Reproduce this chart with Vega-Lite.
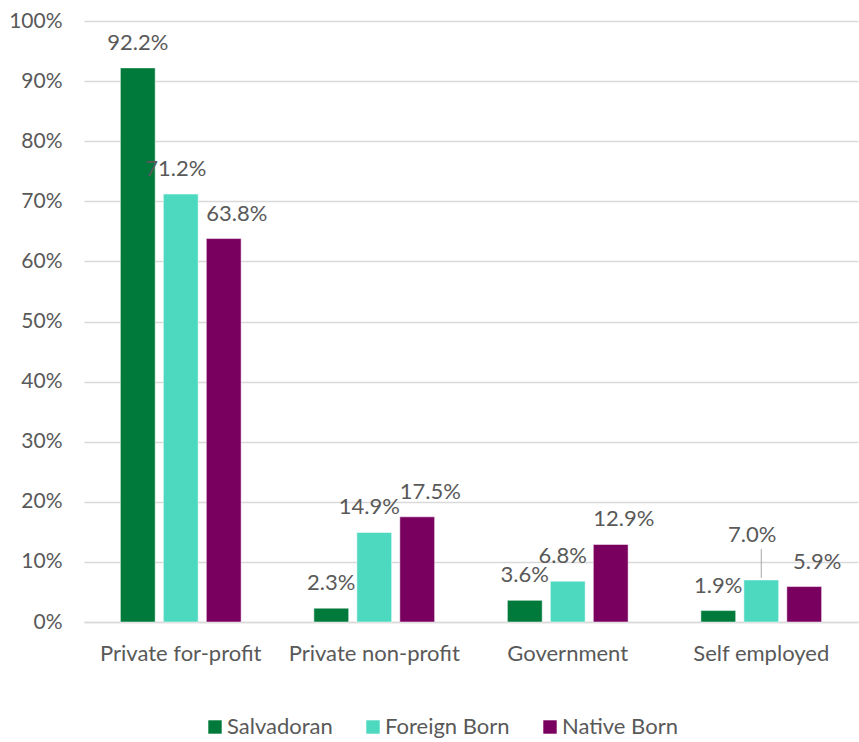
{
  "$schema": "https://vega.github.io/schema/vega-lite/v6.json",
  "width": 774,
  "height": 601,
  "autosize": "none",
  "padding": {"left": 84, "top": 21, "right": 1, "bottom": 120},
  "background": "white",
  "data": {
    "values": [
      {"sector": "Private for-profit", "group": "Salvadoran", "share": 0.922},
      {"sector": "Private for-profit", "group": "Foreign Born", "share": 0.712},
      {"sector": "Private for-profit", "group": "Native Born", "share": 0.638},
      {"sector": "Private non-profit", "group": "Salvadoran", "share": 0.023},
      {"sector": "Private non-profit", "group": "Foreign Born", "share": 0.149},
      {"sector": "Private non-profit", "group": "Native Born", "share": 0.175},
      {"sector": "Government", "group": "Salvadoran", "share": 0.036},
      {"sector": "Government", "group": "Foreign Born", "share": 0.068},
      {"sector": "Government", "group": "Native Born", "share": 0.129},
      {"sector": "Self employed", "group": "Salvadoran", "share": 0.019},
      {"sector": "Self employed", "group": "Foreign Born", "share": 0.070},
      {"sector": "Self employed", "group": "Native Born", "share": 0.059}
    ]
  },
  "encoding": {
    "x": {
      "field": "sector",
      "type": "nominal",
      "sort": ["Private for-profit", "Private non-profit", "Government", "Self employed"],
      "scale": {"paddingInner": 0.376, "paddingOuter": 0.188},
      "axis": {
        "title": null,
        "labelAngle": 0,
        "labelFont": "Lato",
        "labelFontSize": 22,
        "labelColor": "#595959",
        "labelPadding": 21,
        "ticks": false,
        "domain": true,
        "domainColor": "#D9D9D9",
        "domainWidth": 1.5,
        "grid": false
      }
    },
    "xOffset": {
      "field": "group",
      "type": "nominal",
      "sort": ["Salvadoran", "Foreign Born", "Native Born"],
      "scale": {"paddingInner": 0.19, "paddingOuter": 0}
    },
    "y": {
      "field": "share",
      "type": "quantitative",
      "scale": {"domain": [0, 1], "nice": false},
      "axis": {
        "title": null,
        "values": [0, 0.1, 0.2, 0.3, 0.4, 0.5, 0.6, 0.7, 0.8, 0.9, 1.0],
        "format": ".0%",
        "labelFont": "Lato",
        "labelFontSize": 21,
        "labelColor": "#595959",
        "labelPadding": 22,
        "ticks": false,
        "domain": false,
        "gridColor": "#D9D9D9",
        "gridWidth": 1.5
      }
    }
  },
  "layer": [
    {
      "mark": {"type": "bar", "stroke": "white", "strokeWidth": 0.5},
      "encoding": {
        "color": {
          "field": "group",
          "type": "nominal",
          "sort": ["Salvadoran", "Foreign Born", "Native Born"],
          "scale": {
            "domain": ["Salvadoran", "Foreign Born", "Native Born"],
            "range": ["#007A3B", "#4DD9C0", "#7A0060"]
          },
          "legend": {
            "title": null,
            "orient": "none",
            "direction": "horizontal",
            "legendX": 120,
            "legendY": 695,
            "symbolType": "square",
            "symbolSize": 180,
            "symbolStrokeWidth": 0,
            "labelFont": "Lato",
            "labelFontSize": 22,
            "labelColor": "#595959",
            "labelOffset": 1,
            "columnPadding": 29
          }
        }
      }
    },
    {
      "transform": [{"filter": "datum.group === 'Salvadoran'"}],
      "mark": {"type": "text", "baseline": "middle", "dy": -25, "font": "Lato", "fontSize": 22, "color": "#595959"},
      "encoding": {"text": {"field": "share", "type": "quantitative", "format": ".1%"}}
    },
    {
      "transform": [{"filter": "datum.group === 'Foreign Born' && datum.sector !== 'Self employed'"}],
      "mark": {"type": "text", "baseline": "middle", "dy": -25, "dx": -5, "font": "Lato", "fontSize": 22, "color": "#595959"},
      "encoding": {"text": {"field": "share", "type": "quantitative", "format": ".1%"}}
    },
    {
      "transform": [{"filter": "datum.group === 'Foreign Born' && datum.sector === 'Self employed'"}],
      "mark": {"type": "text", "baseline": "middle", "dy": -45, "dx": -9, "font": "Lato", "fontSize": 22, "color": "#595959"},
      "encoding": {"text": {"field": "share", "type": "quantitative", "format": ".1%"}}
    },
    {
      "transform": [{"filter": "datum.group === 'Foreign Born' && datum.sector === 'Self employed'"}],
      "mark": {"type": "rule", "color": "#A6A6A6", "strokeWidth": 1, "yOffset": -2, "y2Offset": -31},
      "encoding": {"y2": {"field": "share"}}
    },
    {
      "transform": [{"filter": "datum.group === 'Native Born'"}],
      "mark": {"type": "text", "baseline": "middle", "dy": -25, "dx": 13, "font": "Lato", "fontSize": 22, "color": "#595959"},
      "encoding": {"text": {"field": "share", "type": "quantitative", "format": ".1%"}}
    }
  ],
  "config": {"view": {"stroke": null}}
}
